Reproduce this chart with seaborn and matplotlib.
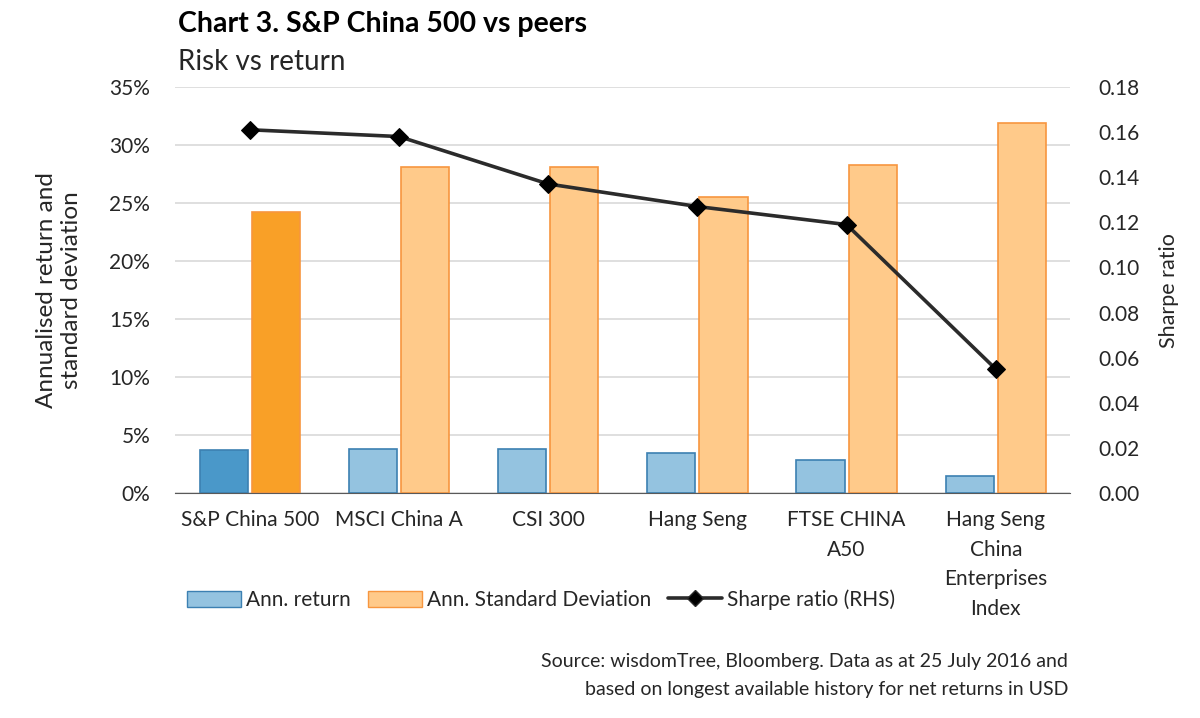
import matplotlib

matplotlib.use('Agg')

import numpy as np  # noqa: E402
import pandas as pd  # noqa: E402
import seaborn as sns  # noqa: E402
from matplotlib import pyplot as plt  # noqa: E402
from matplotlib.lines import Line2D  # noqa: E402
from matplotlib.patches import Patch  # noqa: E402

categories = ['S&P China 500', 'MSCI China A', 'CSI 300', 'Hang Seng',
              'FTSE CHINA\nA50', 'Hang Seng\nChina\nEnterprises\nIndex']
ann_return = [3.7, 3.8, 3.8, 3.45, 2.85, 1.5]
ann_std = [24.2, 28.1, 28.1, 25.5, 28.3, 31.9]
sharpe = [0.161, 0.158, 0.137, 0.127, 0.119, 0.055]
series_names = ['Ann. return', 'Ann. Standard Deviation']

RET_FACE, RET_EDGE = '#94c3e0', '#3c80b2'
STD_FACE, STD_EDGE = '#ffca8a', '#f7963f'
RET_HI, STD_HI = '#4a98c9', '#f9a027'
TEXT = '#262626'

sns.set_style('white')
plt.rcParams['font.family'] = ['Lato', 'DejaVu Sans']

frame = pd.DataFrame({
    'category': categories * 2,
    'series': [series_names[0]] * len(categories) + [series_names[1]] * len(categories),
    'value': ann_return + ann_std,
})

fig = plt.figure(figsize=(12, 7.18), dpi=100)
ax = fig.add_axes([0.146, 0.313, 0.746, 0.566])

sns.barplot(frame, x='category', y='value', hue='series', order=categories,
            hue_order=series_names, palette=[RET_FACE, STD_FACE], width=0.7,
            gap=0.08, legend=False, ax=ax)

faces = [(RET_FACE, RET_EDGE, RET_HI), (STD_FACE, STD_EDGE, STD_HI)]
for container, (face, edge, hi) in zip(ax.containers, faces):
    for i, bar in enumerate(container):
        bar.set_facecolor(hi if i == 0 else face)
        bar.set_edgecolor(edge)
        bar.set_linewidth(1.2)

ax.set_ylim(0, 35)
ax.set_yticks(np.arange(0, 36, 5))
ax.set_yticklabels([f'{v}%' for v in range(0, 36, 5)])
ax.yaxis.grid(True, color='#d9d9d9', linewidth=1.2)
ax.set_axisbelow(True)
ax.set_xlabel('')
ax.set_ylabel('Annualised return and\nstandard deviation', fontsize=17.5,
              labelpad=20, color=TEXT)
for side in ['top', 'right', 'left']:
    ax.spines[side].set_visible(False)
ax.spines['bottom'].set_color('#595959')
ax.tick_params(axis='both', length=0, labelsize=15, colors=TEXT)
ax.tick_params(axis='x', pad=12)
ax.tick_params(axis='y', pad=18)
for label in ax.get_xticklabels():
    label.set_linespacing(1.6)
ax.set_xlim(-0.5, len(categories) - 0.5)

ax2 = ax.twinx()
sns.lineplot(x=np.arange(len(categories)), y=sharpe, ax=ax2, color='#2b2b2b',
             linewidth=2.6, marker='D', markersize=9, markeredgecolor='black',
             markerfacecolor='black')
ax2.set_ylim(0, 0.18)
ax2.set_yticks(np.arange(0, 0.181, 0.02))
ax2.set_yticklabels([f'{v:.2f}' for v in np.arange(0, 0.181, 0.02)])
ax2.set_ylabel('Sharpe ratio', fontsize=15.5, labelpad=14, color=TEXT)
for side in ['top', 'right', 'left', 'bottom']:
    ax2.spines[side].set_visible(False)
ax2.tick_params(axis='y', length=0, labelsize=15, colors=TEXT, pad=20)
ax2.set_xlim(-0.5, len(categories) - 0.5)

handles = [
    Patch(facecolor=RET_FACE, edgecolor=RET_EDGE, label=series_names[0]),
    Patch(facecolor=STD_FACE, edgecolor=STD_EDGE, label=series_names[1]),
    Line2D([0], [0], color='#2b2b2b', linewidth=2.6, marker='D', markersize=8,
           markerfacecolor='black', label='Sharpe ratio (RHS)'),
]
fig.legend(handles=handles, loc='center left', bbox_to_anchor=(0.140, 0.165),
           ncol=3, frameon=False, fontsize=15, handlelength=2.6, handleheight=0.8,
           handletextpad=0.25, columnspacing=0.8, labelcolor=TEXT)

fig.text(0.148, 0.967, 'Chart 3. S&P China 500 vs peers', fontsize=20.5,
         fontweight='bold', color='black', va='center')
fig.text(0.148, 0.913, 'Risk vs return', fontsize=20, color=TEXT, va='center')
fig.text(0.890, 0.079, 'Source: wisdomTree, Bloomberg. Data as at 25 July 2016 and',
         fontsize=14, ha='right', va='center', color=TEXT)
fig.text(0.890, 0.039, 'based on longest available history for net returns in USD',
         fontsize=14, ha='right', va='center', color=TEXT)

fig.savefig('out.png', dpi=100)
